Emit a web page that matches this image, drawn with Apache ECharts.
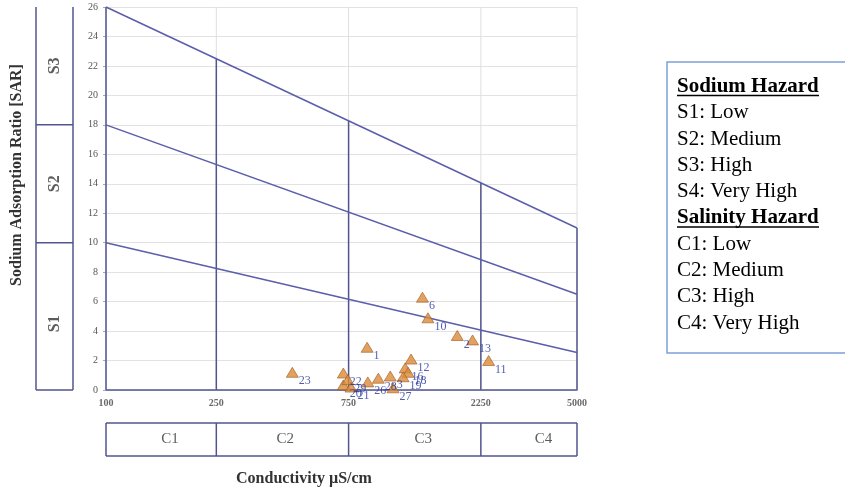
<!DOCTYPE html>
<html><head><meta charset="utf-8">
<script src="https://cdn.jsdelivr.net/npm/echarts@6/dist/echarts.min.js"></script>
<style>html,body{margin:0;padding:0;background:#fff}#c{width:845px;height:489px}</style>
</head><body><div id="c"></div>
<script>
// ---- data ----
const xTicks = [100, 250, 750, 2250, 5000];
const xTickLabels = ['100', '250', '750', '2250', '5000'];
const sarMax = 26;
const lowLine = [[100, 10], [5000, 2.55]];
const midLine = [[100, 18], [5000, 6.5]];
const highLine = [[100, 26], [5000, 11]];
const sBounds = [0, 10, 18, 26];
const sLabels = ['S1', 'S2', 'S3'];
const sLabelY = [4.5, 14, 22];
const cLabels = ['C1', 'C2', 'C3', 'C4'];
const cLabelX = [170, 443, 1393, 3784];
const sampleIds = ['1', '2', '3', '6', '10', '11', '12', '13', '16', '18', '19', '20', '21', '22', '23', '26', '27', '28', '29'];
const sampleEC  = [875, 1850, 1060, 1385, 1450, 2400, 1260, 2100, 1200, 1230, 1180, 718, 765, 718, 470, 880, 1085, 960, 745];
const sampleSAR = [2.9, 3.7, 0.95, 6.3, 4.9, 2.0, 2.1, 3.4, 1.5, 1.2, 0.9, 0.35, 0.2, 1.15, 1.2, 0.55, 0.15, 0.8, 0.7];
const legendLines = [
  ['Sodium Hazard', true], ['S1: Low', false], ['S2: Medium', false], ['S3: High', false], ['S4: Very High', false],
  ['Salinity Hazard', true], ['C1: Low', false], ['C2: Medium', false], ['C3: High', false], ['C4: Very High', false]
];

// ---- helpers ----
const SERIF = "'Liberation Serif', 'Times New Roman', serif";
const DARK = '#50548f';
const DIAG = '#5a5eab';
function topAt(x) {
  const [a, b] = highLine;
  const t = (Math.log10(x) - Math.log10(a[0])) / (Math.log10(b[0]) - Math.log10(a[0]));
  return a[1] + t * (b[1] - a[1]);
}
function seg(data, color, width, xi, yi) {
  return {type: 'line', data, xAxisIndex: xi || 0, yAxisIndex: yi || 0, symbol: 'none', silent: true,
    clip: false, animation: false, lineStyle: {color, width}, z: 3};
}

const series = [];
// light vertical grid
xTicks.forEach(t => { const s = seg([[t, 0], [t, sarMax]], '#dedede', 1); s.z = 1; series.push(s); });
// dark verticals up to top boundary
xTicks.forEach(t => series.push(seg([[t, 0], [t, topAt(t)]], DARK, 1.5)));
// diagonal boundaries
[lowLine, midLine, highLine].forEach(l => series.push(seg(l, DIAG, 1.5)));
// sample points
series.push({
  type: 'scatter', xAxisIndex: 0, yAxisIndex: 0, animation: false, z: 5,
  symbol: 'triangle', symbolSize: [12, 10],
  itemStyle: {color: '#dc8a37', borderColor: '#a05e22', borderWidth: 0.8},
  data: sampleEC.map((v, i) => [v, sampleSAR[i], sampleIds[i]]),
  label: {show: true, position: 'right', distance: 0, offset: [0, 9], formatter: p => p.value[2],
    color: '#26349a', fontSize: 12, fontFamily: SERIF}
});
// x tick labels
series.push({
  type: 'scatter', xAxisIndex: 0, yAxisIndex: 0, animation: false, silent: true, symbolSize: 0,
  data: xTicks.map((t, i) => [t, 0, xTickLabels[i]]),
  label: {show: true, position: 'bottom', distance: 8, formatter: p => p.value[2],
    color: '#444', fontSize: 10, fontWeight: 'bold', fontFamily: SERIF}
});
// S panel
series.push(seg([[0, 0], [0, sarMax]], DARK, 1.5, 1, 1));
series.push(seg([[1, 0], [1, sarMax]], DARK, 1.5, 1, 1));
sBounds.slice(0, 3).forEach(b => series.push(seg([[0, b], [1, b]], DARK, 1.5, 1, 1)));
series.push({
  type: 'scatter', xAxisIndex: 1, yAxisIndex: 1, animation: false, silent: true, symbolSize: 0,
  data: sLabels.map((s, i) => [0.5, sLabelY[i], s]),
  label: {show: true, position: 'inside', rotate: 90, formatter: p => p.value[2],
    color: '#333', fontSize: 16, fontWeight: 'bold', fontFamily: SERIF}
});
// C panel
series.push(seg([[100, 0], [5000, 0]], DARK, 1.5, 2, 2));
series.push(seg([[100, 1], [5000, 1]], DARK, 1.5, 2, 2));
xTicks.forEach(t => series.push(seg([[t, 0], [t, 1]], DARK, 1.5, 2, 2)));
series.push({
  type: 'scatter', xAxisIndex: 2, yAxisIndex: 2, animation: false, silent: true, symbolSize: 0,
  data: cLabels.map((s, i) => [cLabelX[i], 0.5, s]),
  label: {show: true, position: 'inside', formatter: p => p.value[2],
    color: '#333', fontSize: 15, fontFamily: SERIF}
});

// legend graphic
const legendEls = [{type: 'rect', shape: {x: 667, y: 62, width: 220, height: 291},
  style: {fill: '#fff', stroke: '#7ea0d6', lineWidth: 1.5}}];
legendLines.forEach(([txt, bold], i) => {
  const y = 86.5 + i * 26.3;
  legendEls.push({type: 'text', x: 677, y, style: {text: txt, fill: '#000',
    font: (bold ? 'bold ' : '') + '21px ' + SERIF, textVerticalAlign: 'middle'}});
  if (bold) legendEls.push({type: 'line', shape: {x1: 677, y1: y + 9, x2: 819, y2: y + 9},
    style: {stroke: '#000', lineWidth: 1.5}});
});

const chart = echarts.init(document.getElementById('c'), null, {renderer: 'canvas'});
chart.setOption({
  backgroundColor: '#fff',
  animation: false,
  grid: [
    {left: 106, top: 7, width: 471, height: 383},
    {left: 36, top: 7, width: 37, height: 383},
    {left: 106, top: 423, width: 471, height: 33}
  ],
  xAxis: [
    {gridIndex: 0, type: 'log', logBase: 10, min: 100, max: 5000,
      axisLine: {show: true, lineStyle: {color: DARK, width: 1.5}}, axisTick: {show: false},
      axisLabel: {show: false}, splitLine: {show: false}, minorTick: {show: false}},
    {gridIndex: 1, type: 'value', min: 0, max: 1, show: false},
    {gridIndex: 2, type: 'log', logBase: 10, min: 100, max: 5000, show: false}
  ],
  yAxis: [
    {gridIndex: 0, type: 'value', min: 0, max: sarMax, interval: 2,
      axisLine: {show: false}, axisTick: {show: true, length: 3, lineStyle: {color: '#aaa'}},
      axisLabel: {fontSize: 10, color: '#555', fontFamily: SERIF, margin: 8},
      splitLine: {show: true, lineStyle: {color: '#e2e2e2', width: 1}}},
    {gridIndex: 1, type: 'value', min: 0, max: sarMax, show: false},
    {gridIndex: 2, type: 'value', min: 0, max: 1, show: false}
  ],
  series,
  graphic: [
    {type: 'text', x: 17, y: 175, rotation: Math.PI / 2,
      style: {text: 'Sodium Adsorption Ratio [SAR]', font: 'bold 16px ' + SERIF, fill: '#333',
        textAlign: 'center', textVerticalAlign: 'middle'}},
    {type: 'text', x: 304, y: 479,
      style: {text: 'Conductivity µS/cm', font: 'bold 16px ' + SERIF, fill: '#333',
        textAlign: 'center', textVerticalAlign: 'middle'}},
    {type: 'group', children: legendEls}
  ]
});
</script></body></html>
